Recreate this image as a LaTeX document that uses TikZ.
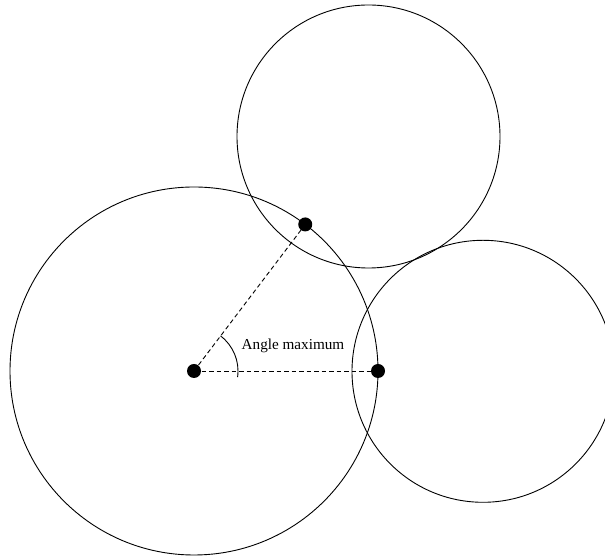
\documentclass[tikz,border=0pt]{standalone}
\usepackage{fontspec}
\setmainfont{Liberation Serif}
\usetikzlibrary{calc}
\begin{document}
\begin{tikzpicture}[x=1pt,y=1pt,
  circ/.style={draw=black,line width=0.9pt},
  dot/.style={circle,fill=black,inner sep=0pt,minimum size=14pt},
  dashline/.style={line width=0.9pt,dash pattern=on 4.5pt off 3pt},
  lbl/.style={font=\fontsize{15.2}{18}\selectfont,inner sep=0pt,anchor=base west}]
\useasboundingbox (0,0) rectangle (605,556);
\clip (0,0) rectangle (605,556);
\coordinate (cbig) at (194,185);
\coordinate (ctop) at (368.5,419.5);
\coordinate (cright) at (483,184.7);
\draw[circ] (cbig) circle (184);
\draw[circ] (ctop) circle (131.5);
\draw[circ] (cright) circle (131);
\node[dot] (c) at (cbig) {};
\node[dot] (p1) at ($(cbig)+(52.8:184)$) {};
\node[dot] (p2) at ($(cbig)+(0:184)$) {};
\draw[dashline] (c.center) -- (p1.center);
\draw[dashline] (c.center) -- (p2.center);
\draw[line width=0.9pt] ($(cbig)+(-8:44)$) arc (-8:53:44);
\node[lbl] (t) at (241.5,206) {Angle maximum};
\end{tikzpicture}
\end{document}
